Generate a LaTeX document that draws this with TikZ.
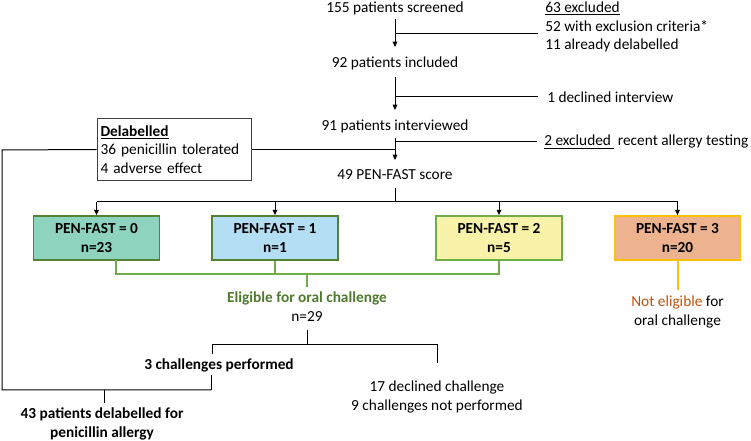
\documentclass[tikz,border=0pt]{standalone}
\usepackage{fontspec}
\setmainfont{Carlito}
\usetikzlibrary{arrows.meta}
\definecolor{gborder}{HTML}{548235}
\definecolor{gborder2}{HTML}{70AD47}
\definecolor{gtext}{HTML}{4E7A2E}
\definecolor{fill0}{HTML}{8ED3BE}
\definecolor{fill1}{HTML}{B4DEF3}
\definecolor{fill2}{HTML}{F9F3AA}
\definecolor{fill3}{HTML}{EDB38F}
\definecolor{oborder}{HTML}{FFC000}
\definecolor{otext}{HTML}{C0500F}
\definecolor{lgray}{HTML}{404040}
\begin{document}
\begin{tikzpicture}[x=0.75pt,y=-0.75pt,
  font=\fontsize{11.5}{14}\selectfont,
  txt/.style={inner sep=0pt, align=center},
  ltxt/.style={inner sep=0pt, align=left, anchor=west},
  ln/.style={draw=black, line width=0.75pt},
  arr/.style={ln, -{Triangle[length=4pt,width=3.5pt]}},
  gln/.style={draw=gborder2, line width=1.5pt},
  oln/.style={draw=oborder, line width=1.5pt},
  pbox/.style={draw=gborder, line width=1.3pt, minimum width=94.5pt, minimum height=33pt, inner sep=0pt, align=center, font=\fontsize{11.5}{14}\selectfont\bfseries}
]
\useasboundingbox (0,0) rectangle (751,441);

% main column
\node[txt] (scr) at (395,8) {155 patients screened};
\node[txt] (inc) at (395,63) {92 patients included};
\node[txt] (int) at (395,126) {91 patients interviewed};
\node[txt] (pf)  at (395,175) {49 PEN-FAST score};

\node[ltxt] (excl) at (545,27) {\underline{63 excluded}\\52 with exclusion criteria*\\11 already delabelled};
\node[ltxt] (decl) at (547,97) {1 declined interview};
\node[ltxt] (ex2) at (544,142) {\underline{2 excluded\ } recent allergy testing};

\coordinate (s1) at (395,19);
\coordinate (e1) at (395,47);
\coordinate (b1) at (395,34);
\coordinate (s2) at (395,77);
\coordinate (e2) at (395,110);
\coordinate (b2) at (395,97);
\coordinate (s3) at (395,138);
\coordinate (e3) at (395,160);
\coordinate (b3) at (395,142);

\draw[arr] (s1) -- (e1);
\draw[ln] (b1) -- (538,34);
\draw[arr] (s2) -- (e2);
\draw[ln] (b2) -- (538,97);
\draw[arr] (s3) -- (e3);
\draw[ln] (b3) -- (537,142);

% delabelled box
\node[draw=lgray, line width=0.75pt, minimum width=116pt, minimum height=47pt, text width=111pt, inner xsep=2.5pt, inner ysep=2pt, align=left] (del) at (174.5,149.5)
  {\underline{\textbf{Delabelled}}\\36 penicillin tolerated\\4 adverse effect};
\draw[ln] (del.east) -- (del.east -| int);
\coordinate (lc) at (2,150);
\coordinate (lb) at (2,390);
\coordinate (cb) at (211,390);

% PEN-FAST boxes
\node[pbox, fill=fill0] (p0) at (96.5,238) {PEN-FAST = 0\\n=23};
\node[pbox, fill=fill1] (p1) at (275,238) {PEN-FAST = 1\\n=1};
\node[pbox, fill=fill2, draw=gborder2] (p2) at (499,238) {PEN-FAST = 2\\n=5};
\node[pbox, fill=fill3, draw=oborder] (p3) at (677.5,238) {PEN-FAST = 3\\n=20};

\coordinate (sp) at (395,188);
\coordinate (hp) at (395,202);
\draw[ln] (sp) -- (hp);
\draw[ln] (p0.north |- hp) -- (p3.north |- hp);
\foreach \n in {p0,p1,p2,p3} \draw[arr] (\n.north |- hp) -- (\n.north);

% green eligible lines
\coordinate (g0) at (116,260);
\coordinate (gh) at (307,274);
\draw[gln] (g0) -- (116,274) -- (p2.south |- gh) -- (p2.south);
\draw[gln] (p1.south) -- (p1.south |- gh);
\node[txt, font=\fontsize{11.5}{14}\selectfont\bfseries, text=gtext] (elig) at (307,298) {Eligible for oral challenge};
\node[txt] (n29) at (307,317) {n=29};
\draw[gln] (gh) -- (307,287);

% not eligible
\node[txt] (nel) at (677.5,312) {\textcolor{otext}{Not eligible} for\\oral challenge};
\draw[oln] (p3.south) -- (677.5,290);

% challenges
\coordinate (c1) at (307,330);
\coordinate (c2) at (307,345);
\node[txt, font=\fontsize{11.5}{14}\selectfont\bfseries] (chp) at (219,365) {3 challenges performed};
\node[txt] (dec) at (437,397) {17 declined challenge\\9 challenges not performed};
\draw[ln] (c1) -- (c2);
\draw[ln] (212,354) -- (212,345) -- (dec.north |- c2) -- (437,363);
\draw[ln] (211,375) -- (cb);

% left return line
\draw[ln] (del.west) -- (lc) -- (lb) -- (cb);
\coordinate (fb) at (104,390);
\draw[ln] (fb) -- (104,403);
\node[txt, font=\fontsize{11.5}{14}\selectfont\bfseries] (fin) at (102,424) {43 patients delabelled for\\penicillin allergy};
\end{tikzpicture}
\end{document}
